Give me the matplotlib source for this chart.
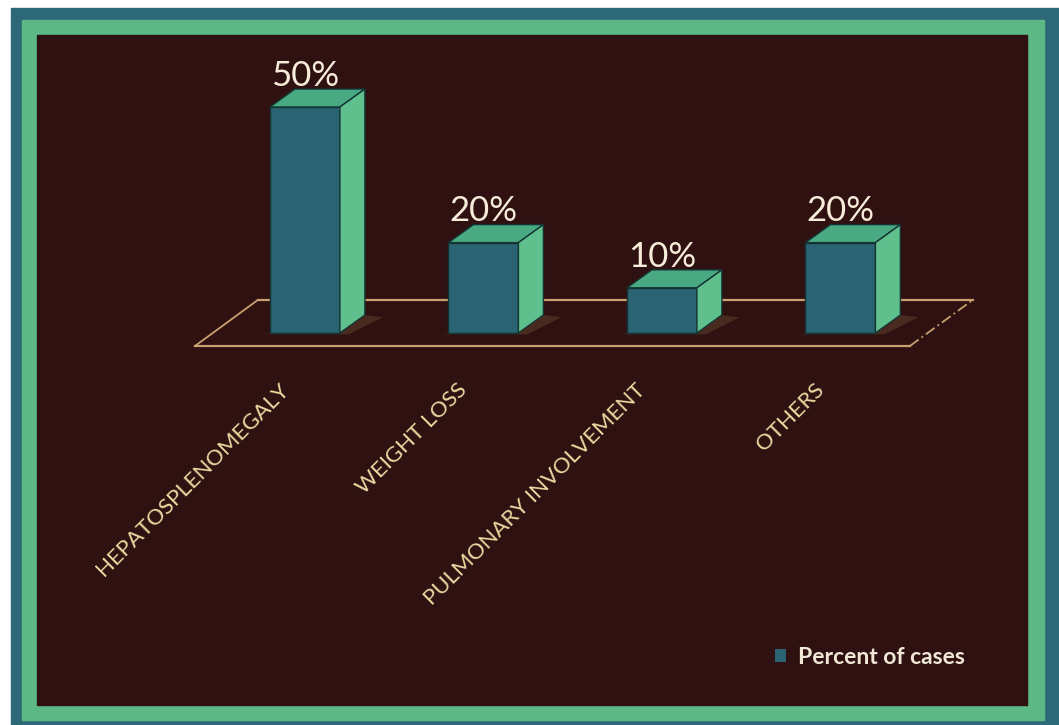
import matplotlib.pyplot as plt
from matplotlib.patches import Rectangle, Polygon

categories = ["HEPATOSPLENOMEGALY", "WEIGHT LOSS", "PULMONARY INVOLVEMENT", "OTHERS"]
percent = [50, 20, 10, 20]
value_labels = ["50%", "20%", "10%", "20%"]
series_name = "Percent of cases"

W, H = 1059, 725
bg = "#2e1110"
front_c = "#2a6372"
top_c = "#49a982"
side_c = "#5fbf8d"
edge_c = "#143434"
floor_c = "#c9a16f"

fig = plt.figure(figsize=(W / 100, H / 100), dpi=100)
fig.patch.set_facecolor("white")


def px_rect(x0, y0, x1, y1, color):
    # rectangle given in pixels from top-left corner
    fig.patches.append(Rectangle((x0 / W, 1 - y1 / H), (x1 - x0) / W, (y1 - y0) / H,
                                 transform=fig.transFigure, color=color, zorder=-10))


# frame: teal outer, green band, dark inner panel
px_rect(11, 8, W, H, "#2d6878")
px_rect(22, 20, 1044, 720, "#5cb985")
px_rect(37, 35, 1027, 705, bg)

# axes covers the inner panel; 1 x unit = 178.5 px, 1 y unit = 4.52 px
ax = fig.add_axes([37 / W, 1 - 705 / H, 990 / W, 670 / H])
ax.set_facecolor(bg)
ax.set_xlim(-1.501, -1.501 + 990 / 178.5)
ax.set_ylim(-(705 - 333) / 4.52, (333 - 35) / 4.52)
ax.axis("off")

w = 0.392   # front face width
dx = 0.14   # depth offset in x
dy = 3.98   # depth offset in y

# floor plane
fy0, fy1 = -2.88, 7.3
fx0, fx1, fdx = -0.616, 3.389, 0.352
ax.plot([fx0 + fdx, fx1 + fdx], [fy1, fy1], color=floor_c, lw=1.6, zorder=1)
ax.plot([fx0, fx1], [fy0, fy0], color=floor_c, lw=1.6, zorder=1)
ax.plot([fx0, fx0 + fdx], [fy0, fy1], color=floor_c, lw=1.3, zorder=1)
ax.plot([fx1, fx1 + fdx], [fy0, fy1], color=floor_c, lw=1.3, ls=(0, (6, 2, 1, 2)), zorder=1)

for i, v in enumerate(percent):
    l, r = i - w / 2, i + w / 2
    # soft shadow at the base
    ax.add_patch(Polygon([(l - 0.03, -0.3), (r + 0.05, -0.3), (r + dx + 0.1, dy - 0.5), (r + dx, dy)],
                         closed=True, color="#7a5a3c", alpha=0.35, lw=0, zorder=2))
    ax.add_patch(Rectangle((l, 0), w, v, facecolor=front_c, edgecolor=edge_c, lw=1, zorder=3))
    ax.add_patch(Polygon([(l, v), (r, v), (r + dx, v + dy), (l + dx, v + dy)], closed=True,
                         facecolor=top_c, edgecolor=edge_c, lw=1, zorder=3))
    ax.add_patch(Polygon([(r, 0), (r + dx, dy), (r + dx, v + dy), (r, v)], closed=True,
                         facecolor=side_c, edgecolor=edge_c, lw=1, zorder=3))
    ax.text(i, v + dy + 0.7, value_labels[i], ha="center", va="baseline",
            fontsize=25, color="#f6ecd9", family="Lato", zorder=4)
    ax.text(i - 0.07, -10.4, categories[i], rotation=45, ha="right", va="top",
            fontsize=16, color="#ecd9a2", family="Lato", zorder=4)

# legend
leg_handle = Rectangle((0, 0), 1, 1, facecolor=front_c, edgecolor="none")
leg = fig.legend([leg_handle], [series_name], loc="center left",
                 bbox_to_anchor=(754 / W, 1 - 657 / H), frameon=False,
                 handlelength=0.5, handleheight=0.5, handletextpad=0.5,
                 prop={"family": "Lato", "size": 16.5, "weight": "bold"})
for t in leg.get_texts():
    t.set_color("#f1e7d6")

fig.savefig("out.png", dpi=100, facecolor=fig.get_facecolor())
